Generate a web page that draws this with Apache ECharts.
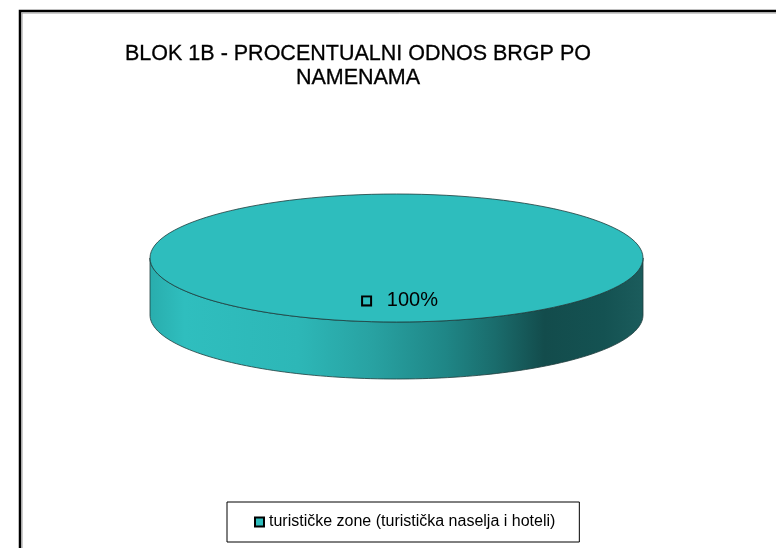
<!DOCTYPE html>
<html>
<head>
<meta charset="utf-8">
<script src="https://cdn.jsdelivr.net/npm/echarts@6/dist/echarts.min.js"></script>
<style>
  html, body { margin: 0; padding: 0; background: #ffffff; }
  #chart { width: 776px; height: 548px; }
</style>
</head>
<body>
<div id="chart"></div>
<script>
// ---- Data ----
const titleLines = ['BLOK 1B - PROCENTUALNI ODNOS BRGP PO', 'NAMENAMA'];
const categories = ['turističke zone (turistička naselja i hoteli)'];
const values = [100];

// ---- Styling ----
const topColors = ['#2EBDBD'];
const FONT = '"Liberation Sans", Arial, sans-serif';

const total = values.reduce((a, b) => a + b, 0);

const PIE = { cx: 396.5, cy: 258, rx: 246.5, ry: 64, depth: 57, labelR: 0.67 };

function pt(theta, dy) {
  return [PIE.cx + PIE.rx * Math.sin(theta), PIE.cy - PIE.ry * Math.cos(theta) + (dy || 0)];
}

function sideGradient() {
  return new echarts.graphic.LinearGradient(PIE.cx - PIE.rx, 0, PIE.cx + PIE.rx, 0, [
    { offset: 0, color: '#29ADAD' },
    { offset: 0.07, color: '#2FBEBE' },
    { offset: 0.3, color: '#2DB7B7' },
    { offset: 0.45, color: '#28A2A2' },
    { offset: 0.6, color: '#1F8686' },
    { offset: 0.7, color: '#1A6C6C' },
    { offset: 0.8, color: '#134C4C' },
    { offset: 0.92, color: '#145252' },
    { offset: 1, color: '#1B5C5C' }
  ], true);
}

function renderItem(params, api) {
  const idx = params.dataIndex;
  const val = api.value(0);
  let start = 0;
  for (let i = 0; i < idx; i++) start += values[i];
  const a0 = start / total * Math.PI * 2;
  const frac = val / total;
  const a1 = a0 + frac * Math.PI * 2;
  const children = [];
  const outline = '#1E3C3C';

  // visible front side of the slice (angles between PI/2 and 3PI/2)
  const s0 = Math.max(a0, Math.PI / 2), s1 = Math.min(a1, Math.PI * 1.5);
  if (s1 > s0) {
    const N = 120, pts = [];
    for (let k = 0; k <= N; k++) pts.push(pt(s0 + (s1 - s0) * k / N, 0));
    for (let k = N; k >= 0; k--) pts.push(pt(s0 + (s1 - s0) * k / N, PIE.depth));
    children.push({
      type: 'polygon', shape: { points: pts },
      style: { fill: sideGradient(), stroke: outline, lineWidth: 0.8 }
    });
  }
  // top face
  if (frac >= 0.9999) {
    children.push({
      type: 'ellipse', shape: { cx: PIE.cx, cy: PIE.cy, rx: PIE.rx, ry: PIE.ry },
      style: { fill: topColors[idx % topColors.length], stroke: outline, lineWidth: 0.8 }
    });
  } else {
    const N = 120, pts = [[PIE.cx, PIE.cy]];
    for (let k = 0; k <= N; k++) pts.push(pt(a0 + (a1 - a0) * k / N, 0));
    children.push({
      type: 'polygon', shape: { points: pts },
      style: { fill: topColors[idx % topColors.length], stroke: outline, lineWidth: 0.8 }
    });
  }
  // data label with legend key
  const mid = (a0 + a1) / 2;
  const lx = PIE.cx + PIE.rx * PIE.labelR * Math.sin(mid);
  const ly = PIE.cy - PIE.ry * PIE.labelR * Math.cos(mid);
  children.push({
    type: 'text', x: lx + 4, y: ly,
    style: {
      text: '{sq|}   ' + Math.round(frac * 100) + '%',
      align: 'center', verticalAlign: 'middle',
      font: '20px ' + FONT, fill: '#000000',
      rich: {
        sq: { width: 7, height: 7, borderColor: '#000000', borderWidth: 2, backgroundColor: topColors[idx % topColors.length] }
      }
    }
  });
  return { type: 'group', children: children };
}

const chart = echarts.init(document.getElementById('chart'), null, { renderer: 'canvas' });
chart.setOption({
  backgroundColor: '#ffffff',
  animation: false,
  title: {
    text: titleLines.join('\n'),
    left: 353, top: 37, textAlign: 'center',
    textStyle: { fontFamily: FONT, fontSize: 21.5, fontWeight: 'normal', color: '#000000', lineHeight: 24,
      textBorderColor: '#000000', textBorderWidth: 0.3 }
  },
  legend: {
    data: categories,
    left: 227, top: 502,
    padding: [12, 24, 12, 27],
    borderColor: '#000000', borderWidth: 1,
    itemWidth: 9, itemHeight: 9,
    icon: 'rect',
    itemStyle: { borderColor: '#000000', borderWidth: 2 },
    textStyle: { fontFamily: FONT, fontSize: 16, color: '#000000' }
  },
  graphic: [
    { type: 'rect', shape: { x: 20, y: 11, width: 800, height: 600 },
      style: { fill: null, stroke: '#000000', lineWidth: 2.5 }, silent: true },
    { type: 'polyline', shape: { points: [[22, 560], [22, 13], [800, 13]] },
      style: { stroke: '#999999', lineWidth: 1 }, silent: true }
  ],
  series: [{
    type: 'custom',
    name: categories[0],
    coordinateSystem: 'none',
    color: topColors[0],
    data: values.map((v, i) => ({ name: categories[i], value: [v] })),
    renderItem: renderItem
  }]
});
</script>
</body>
</html>
